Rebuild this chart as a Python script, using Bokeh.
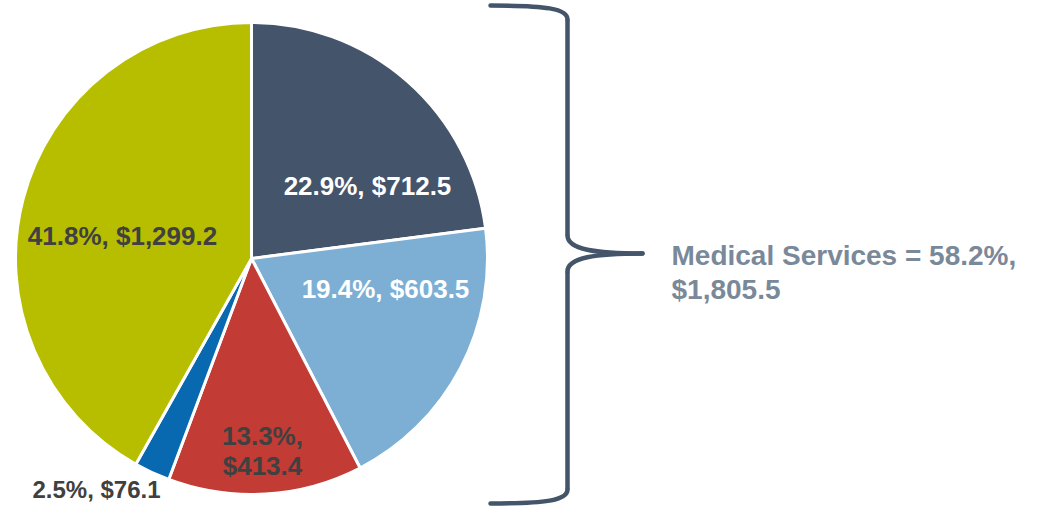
from bokeh.plotting import figure
from bokeh.models import Range1d, ColumnDataSource, LabelSet, Label
from bokeh.core.properties import value
from bokeh.embed import file_html
from bokeh.resources import INLINE
import math

# ---- data ----
categories = ["Medical A", "Medical B", "Medical C", "Medical D", "Other"]
values = [712.5, 603.5, 413.4, 76.1, 1299.2]
percents = [22.9, 19.4, 13.3, 2.5, 41.8]
colors = ["#44546A", "#7DAFD5", "#C23B34", "#0868B0", "#B7BE00"]
label_colors = ["#FFFFFF", "#FFFFFF", "#404040", "#404040", "#404040"]
group_name = "Medical Services"
group_members = 4  # first four slices

W, H = 1025, 506
TOP = 5  # reference row shown at the canvas top


def Y(sy):
    return 522 - sy


p = figure(width=W, height=H, output_backend="svg", toolbar_location=None,
           x_range=Range1d(0, W), y_range=Range1d(Y(TOP + H), Y(TOP)),
           min_border=0)
p.axis.visible = False
p.grid.visible = False
p.outline_line_color = None
p.background_fill_color = "white"
p.border_fill_color = "white"

# ---- pie ----
cx, cy, R = 251, 263, 236
total = sum(values)
starts, ends = [], []
cum = 0.0
for v in values:
    a0 = math.pi / 2 - 2 * math.pi * cum / total
    cum += v
    a1 = math.pi / 2 - 2 * math.pi * cum / total
    starts.append(a0)
    ends.append(a1)

src = ColumnDataSource(dict(x=[cx] * len(values), y=[Y(cy)] * len(values),
                            start=starts, end=ends, color=colors, cat=categories))
p.wedge(x="x", y="y", radius=R, radius_units="screen", start_angle="start",
        end_angle="end", direction="clock", fill_color="color",
        line_color="white", line_width=3, source=src)

# ---- slice labels ----
label_pos = [(367, [190]), (385, [293]), (262, [440, 470]), (96, [494]), (122, [240])]
label_sizes = ["26px", "26px", "26px", "24px", "26px"]
lx, ly, lt, lc, ls = [], [], [], [], []
for i, (pc, v) in enumerate(zip(percents, values)):
    if i == 2:
        parts = [f"{pc:.1f}%,", f"${v:,.1f}"]
    else:
        parts = [f"{pc:.1f}%, ${v:,.1f}"]
    x0, ys = label_pos[i]
    for t, yy in zip(parts, ys):
        lx.append(x0)
        ly.append(Y(yy))
        lt.append(t)
        lc.append(label_colors[i])
        ls.append(label_sizes[i])

lsrc = ColumnDataSource(dict(x=lx, y=ly, text=lt, color=lc, size=ls))
p.add_layout(LabelSet(x="x", y="y", text="text", source=lsrc, text_color="color",
                      text_font=value("Liberation Sans"), text_font_style="bold",
                      text_font_size="size", text_align="center",
                      text_baseline="middle"))

# ---- brace ----
bc = "#44546A"
bw = 4.5
segs = [
    # (x0, y0, x1, y1, cx0, cy0, cx1, cy1) in reference pixel coords
    (490, 10, 567, 24, 545, 10, 567, 13),
    (567, 240, 642, 258, 567, 254, 595, 258),
    (642, 258, 567, 276, 595, 258, 567, 262),
    (567, 494, 490, 508, 567, 505, 545, 508),
]
for s in segs:
    p.bezier(x0=[s[0]], y0=[Y(s[1])], x1=[s[2]], y1=[Y(s[3])],
             cx0=[s[4]], cy0=[Y(s[5])], cx1=[s[6]], cy1=[Y(s[7])],
             line_color=bc, line_width=bw, line_cap="round")
p.line(x=[567, 567], y=[Y(24), Y(240)], line_color=bc, line_width=bw)
p.line(x=[567, 567], y=[Y(276), Y(494)], line_color=bc, line_width=bw)

# ---- group label ----
gsum = sum(values[:group_members])
gpct = gsum / total * 100
for t, yy in [(f"{group_name} = {gpct:.1f}%,", 260), (f"${gsum:,.1f}", 294)]:
    p.add_layout(Label(x=671, y=Y(yy), text=t, text_color="#7A8999",
                       text_font="Liberation Sans", text_font_style="bold",
                       text_font_size="28px", text_align="left",
                       text_baseline="middle"))

open("out.html", "w").write(file_html(p, INLINE))
